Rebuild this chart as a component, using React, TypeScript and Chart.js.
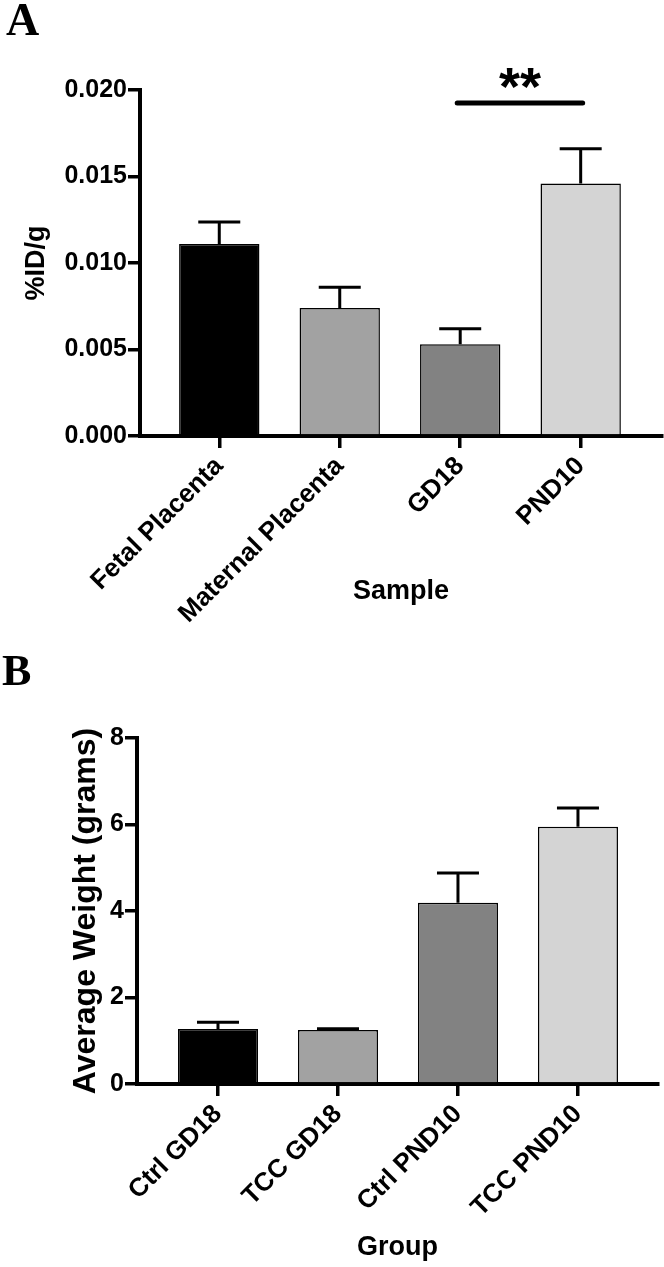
import React, { useEffect, useRef } from 'react';
import { Chart, registerables } from 'chart.js';

Chart.register(...registerables);

// ---- Panel A data ----
const aCategories = ['Fetal Placenta', 'Maternal Placenta', 'GD18', 'PND10'];
const aMeans = [0.0111, 0.0074, 0.0053, 0.0146];
const aSem = [0.00127, 0.0012, 0.0009, 0.002];
const aColors = ['#000000', '#a2a2a2', '#828282', '#d4d4d4'];
const aYTicks = [0, 0.005, 0.01, 0.015, 0.02];
const aSigPair = [2, 3];
const aSigLevel = 0.01925;
const aSigText = '**';

// ---- Panel B data ----
const bCategories = ['Ctrl GD18', 'TCC GD18', 'Ctrl PND10', 'TCC PND10'];
const bMeans = [1.27, 1.25, 4.19, 5.95];
const bSem = [0.16, 0.03, 0.69, 0.43];
const bColors = ['#000000', '#a2a2a2', '#828282', '#d4d4d4'];
const bYTicks = [0, 2, 4, 6, 8];

const SANS = '"Liberation Sans", Arial, Helvetica, sans-serif';
const SERIF = '"Liberation Serif", "Times New Roman", serif';

type PanelCfg = {
  letter: string;
  letterX: number;
  letterY: number;
  letterSize: number;
  categories: string[];
  means: number[];
  sem: number[];
  colors: string[];
  yTicks: number[];
  yDecimals: number;
  yTitle: string;
  yTitleSize: number;
  yTitlePad: number;
  xTitle: string;
  xTitlePad: number;
  xMin: number;
  xMax: number;
  yAxisWidth: number;
  xAxisHeight: number;
  padTop: number;
  padRight: number;
  height: number;
  top: number;
  sig?: { pair: number[]; level: number; text: string };
};

function makeChart(canvas: HTMLCanvasElement, cfg: PanelCfg) {
  const errorBars = {
    id: 'errorBars',
    afterDatasetsDraw(chart: any) {
      const ctx = chart.ctx;
      const meta = chart.getDatasetMeta(0);
      const ys = chart.scales.y;
      ctx.save();
      ctx.strokeStyle = '#000';
      ctx.lineWidth = 3;
      meta.data.forEach((bar: any, i: number) => {
        const x = bar.x;
        const yMean = ys.getPixelForValue(cfg.means[i]);
        const yTop = ys.getPixelForValue(cfg.means[i] + cfg.sem[i]);
        ctx.beginPath();
        ctx.moveTo(x, yMean);
        ctx.lineTo(x, yTop);
        ctx.moveTo(x - 21, yTop);
        ctx.lineTo(x + 21, yTop);
        ctx.stroke();
      });
      ctx.restore();
    },
  };
  const extras = {
    id: 'extras',
    afterDraw(chart: any) {
      const ctx = chart.ctx;
      ctx.save();
      ctx.fillStyle = '#000';
      ctx.textAlign = 'left';
      ctx.textBaseline = 'alphabetic';
      ctx.font = `bold ${cfg.letterSize}px ${SERIF}`;
      ctx.fillText(cfg.letter, cfg.letterX, cfg.letterY);
      if (cfg.sig) {
        const xs = chart.scales.x;
        const ys = chart.scales.y;
        const x1 = xs.getPixelForValue(cfg.sig.pair[0]) - 3;
        const x2 = xs.getPixelForValue(cfg.sig.pair[1]) + 2;
        const y = ys.getPixelForValue(cfg.sig.level);
        ctx.strokeStyle = '#000';
        ctx.lineWidth = 5;
        ctx.lineCap = 'round';
        ctx.beginPath();
        ctx.moveTo(x1, y);
        ctx.lineTo(x2, y);
        ctx.stroke();
        ctx.textAlign = 'center';
        ctx.font = `bold 54px ${SANS}`;
        ctx.fillText(cfg.sig.text, (x1 + x2) / 2, y + 2);
      }
      ctx.restore();
    },
  };

  const yTickFont = { family: SANS, weight: 'bold' as const, size: 25 };
  const xTickFont = { family: SANS, weight: 'bold' as const, size: 26 };
  return new Chart(canvas, {
    type: 'bar',
    data: {
      datasets: [
        {
          data: cfg.means.map((v, i) => ({ x: i, y: v })),
          backgroundColor: cfg.colors,
          borderColor: '#000',
          borderWidth: 1.5,
          barPercentage: 1,
          categoryPercentage: 0.667,
        },
      ],
    },
    options: {
      animation: false,
      responsive: false,
      events: [],
      layout: { padding: { top: cfg.padTop, right: cfg.padRight, left: 0, bottom: 0 } },
      plugins: { legend: { display: false }, tooltip: { enabled: false } },
      scales: {
        x: {
          type: 'linear',
          offset: false,
          min: cfg.xMin,
          max: cfg.xMax,
          afterBuildTicks: (s: any) => {
            s.ticks = cfg.categories.map((_, i) => ({ value: i }));
          },
          afterFit: (s: any) => {
            s.height = cfg.xAxisHeight;
          },
          ticks: {
            autoSkip: false,
            minRotation: 45,
            maxRotation: 45,
            padding: 3,
            color: '#000',
            font: xTickFont,
            callback: (v: any) => cfg.categories[Math.round(Number(v))] ?? '',
          },
          grid: {
            display: true,
            offset: false,
            drawOnChartArea: false,
            drawTicks: true,
            tickLength: 12,
            tickWidth: 3.5,
            tickColor: '#000',
            color: '#000',
            lineWidth: 3.5,
          },
          border: { display: true, width: 4, color: '#000' },
          title: {
            display: true,
            text: cfg.xTitle,
            color: '#000',
            font: { family: SANS, weight: 'bold', size: 27 },
            padding: { top: 0, bottom: cfg.xTitlePad },
          },
        },
        y: {
          type: 'linear',
          min: cfg.yTicks[0],
          max: cfg.yTicks[cfg.yTicks.length - 1],
          afterBuildTicks: (s: any) => {
            s.ticks = cfg.yTicks.map((v) => ({ value: v }));
          },
          afterFit: (s: any) => {
            s.width = cfg.yAxisWidth;
          },
          ticks: {
            padding: 1,
            color: '#000',
            font: yTickFont,
            callback: (v: any) => Number(v).toFixed(cfg.yDecimals),
          },
          grid: {
            display: true,
            drawOnChartArea: false,
            drawTicks: true,
            tickLength: 12,
            tickWidth: 3.5,
            tickColor: '#000',
            color: '#000',
            lineWidth: 3.5,
          },
          border: { display: true, width: 4, color: '#000' },
          title: {
            display: true,
            text: cfg.yTitle,
            color: '#000',
            font: { family: SANS, weight: 'bold', size: cfg.yTitleSize },
            padding: { top: cfg.yTitlePad, bottom: 0 },
          },
        },
      },
    } as any,
    plugins: [errorBars, extras],
  });
}

function Panel({ cfg }: { cfg: PanelCfg }) {
  const ref = useRef<HTMLCanvasElement | null>(null);
  useEffect(() => {
    if (!ref.current) return;
    const chart = makeChart(ref.current, cfg);
    return () => chart.destroy();
  }, [cfg]);
  return (
    <div style={{ position: 'absolute', left: 0, top: cfg.top, width: 664, height: cfg.height }}>
      <canvas ref={ref} width={664} height={cfg.height} style={{ display: 'block' }} />
    </div>
  );
}

const panelA: PanelCfg = {
  letter: 'A',
  letterX: 6,
  letterY: 35,
  letterSize: 46,
  categories: aCategories,
  means: aMeans,
  sem: aSem,
  colors: aColors,
  yTicks: aYTicks,
  yDecimals: 3,
  yTitle: '%ID/g',
  yTitleSize: 27,
  yTitlePad: 20,
  xTitle: 'Sample',
  xTitlePad: 32,
  xMin: -0.658,
  xMax: 3.675,
  yAxisWidth: 140,
  xAxisHeight: 204,
  padTop: 90,
  padRight: 2,
  height: 640,
  top: 0,
  sig: { pair: aSigPair, level: aSigLevel, text: aSigText },
};

const panelB: PanelCfg = {
  letter: 'B',
  letterX: 2,
  letterY: 45,
  letterSize: 44,
  categories: bCategories,
  means: bMeans,
  sem: bSem,
  colors: bColors,
  yTicks: bYTicks,
  yDecimals: 0,
  yTitle: 'Average Weight (grams)',
  yTitleSize: 32,
  yTitlePad: 67,
  xTitle: 'Group',
  xTitlePad: 3,
  xMin: -0.675,
  xMax: 3.667,
  yAxisWidth: 137,
  xAxisHeight: 183,
  padTop: 98,
  padRight: 6,
  height: 627,
  top: 640,
};

export default function App() {
  return (
    <div style={{ position: 'absolute', left: 0, top: 0, width: 664, height: 1267, background: '#fff' }}>
      <Panel cfg={panelA} />
      <Panel cfg={panelB} />
    </div>
  );
}
